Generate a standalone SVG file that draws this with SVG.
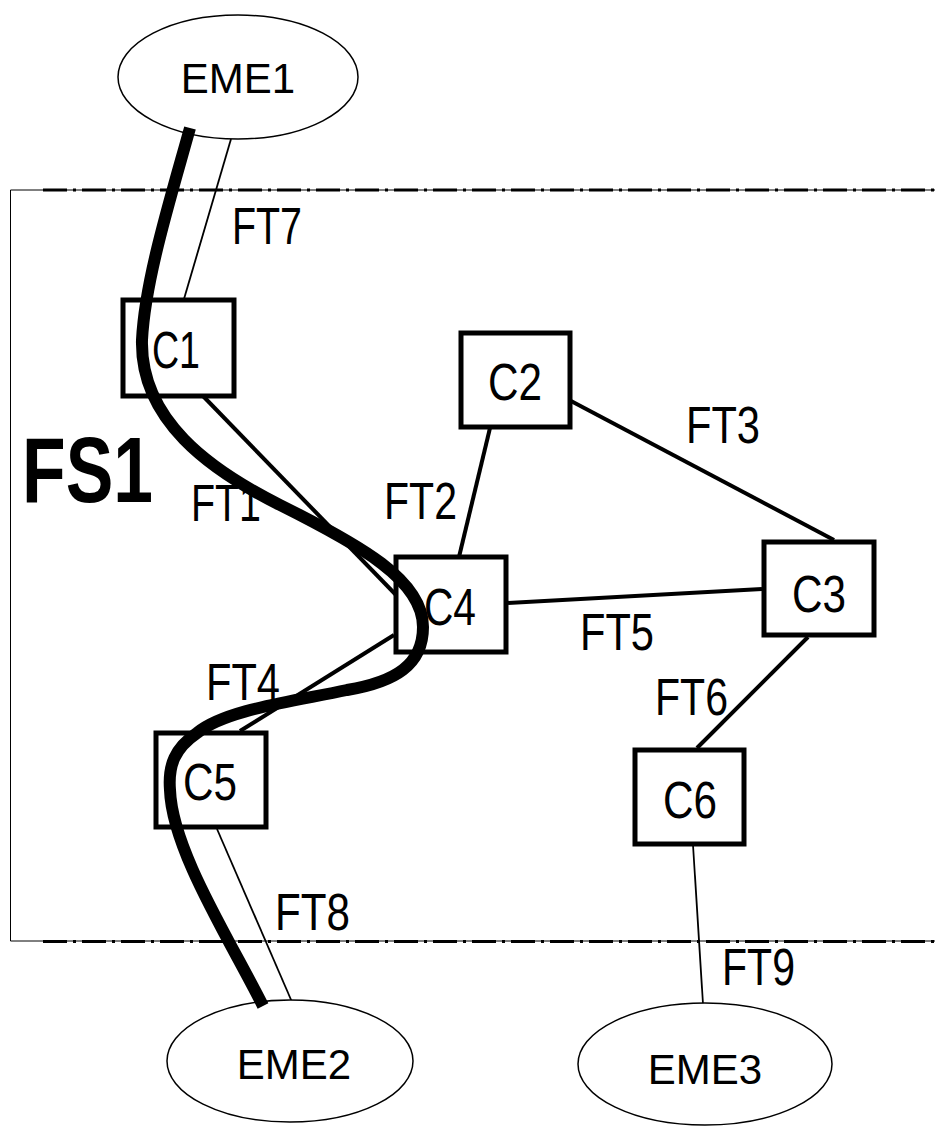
<svg xmlns="http://www.w3.org/2000/svg" width="935" height="1128" viewBox="0 0 935 1128">
<style>
.node{fill:#fff;stroke:#000;stroke-width:5}
.eme{fill:#fff;stroke:#000;stroke-width:1.5}
.lbl{font-family:"Liberation Sans",Arial,sans-serif;font-size:51px;fill:#000}
.emel{font-family:"Liberation Sans",Arial,sans-serif;font-size:42px;fill:#000;text-anchor:middle}
.e{stroke:#000;stroke-width:4;fill:none}
.t{stroke:#000;stroke-width:1.8;fill:none}
.frame{fill:none;stroke:#000;stroke-width:1}
.dd{stroke:#000;stroke-width:3;stroke-dasharray:24 6 3 6;fill:none}
</style>
<g id="frame">
<path class="frame" d="M935,190 H10.5 V941 H935"/>
<line class="dd" x1="43" y1="190" x2="935" y2="190"/>
<line class="dd" x1="43" y1="941.5" x2="935" y2="941.5"/>
</g>
<g id="connectors">
<line class="t" x1="231" y1="139" x2="184" y2="299"/>
<line class="e" x1="203" y1="396" x2="398" y2="597"/>
<line class="e" x1="490" y1="428" x2="459" y2="557"/>
<line class="e" x1="571" y1="401" x2="834" y2="540"/>
<line class="e" x1="507" y1="603" x2="762" y2="589"/>
<line class="e" x1="394" y1="635" x2="240" y2="731"/>
<line class="e" x1="808" y1="637" x2="697" y2="748"/>
<line class="t" x1="217" y1="829" x2="292" y2="1002"/>
<line class="t" x1="693" y1="845" x2="703" y2="1004"/>
</g>
<g id="EME1"><ellipse class="eme" cx="238" cy="77" rx="120" ry="62"/><text class="emel" x="238" y="93">EME1</text></g>
<g id="EME2"><ellipse class="eme" cx="290" cy="1061" rx="123" ry="61"/><text class="emel" x="294" y="1079">EME2</text></g>
<g id="EME3"><ellipse class="eme" cx="705" cy="1064" rx="127" ry="61"/><text class="emel" x="705" y="1084">EME3</text></g>
<g id="C1"><rect class="node" x="123" y="300" width="111" height="96"/></g>
<g id="C2"><rect class="node" x="461" y="333" width="109" height="94"/><text class="lbl" x="488" y="400" textLength="54" lengthAdjust="spacingAndGlyphs">C2</text></g>
<g id="C4"><rect class="node" x="396" y="557" width="110" height="95"/></g>
<g id="C3"><rect class="node" x="764" y="542" width="110" height="93"/><text class="lbl" x="792" y="612" textLength="54" lengthAdjust="spacingAndGlyphs">C3</text></g>
<g id="C5"><rect class="node" x="156" y="733" width="110" height="94"/></g>
<g id="C6"><rect class="node" x="635" y="750" width="109" height="94"/><text class="lbl" x="663" y="818" textLength="54" lengthAdjust="spacingAndGlyphs">C6</text></g>
<g id="FS1-path">
<path d="M190,128 C170,200 145,280 142,340 C140,420 210,470 280,505 C360,545 423,580 423,627 C423,665 395,682 347,690 C290,702 225,710 197,733 C175,748 168,765 170,790 C172,850 230,940 263,1006" fill="none" stroke="#000" stroke-width="12"/>
</g>
<g id="labels">
<text class="lbl" x="152" y="368" textLength="48" lengthAdjust="spacingAndGlyphs">C1</text>
<text class="lbl" x="424" y="625" textLength="52" lengthAdjust="spacingAndGlyphs">C4</text>
<text class="lbl" x="183" y="800" textLength="54" lengthAdjust="spacingAndGlyphs">C5</text>
<text class="lbl" x="232" y="244" textLength="70" lengthAdjust="spacingAndGlyphs">FT7</text>
<text class="lbl" x="686" y="443" textLength="74" lengthAdjust="spacingAndGlyphs">FT3</text>
<text class="lbl" x="191" y="521" textLength="70" lengthAdjust="spacingAndGlyphs">FT1</text>
<text class="lbl" x="384" y="519" textLength="73" lengthAdjust="spacingAndGlyphs">FT2</text>
<text class="lbl" x="580" y="650" textLength="74" lengthAdjust="spacingAndGlyphs">FT5</text>
<text class="lbl" x="206" y="700" textLength="74" lengthAdjust="spacingAndGlyphs">FT4</text>
<text class="lbl" x="655" y="715" textLength="73" lengthAdjust="spacingAndGlyphs">FT6</text>
<text class="lbl" x="275" y="930" textLength="75" lengthAdjust="spacingAndGlyphs">FT8</text>
<text class="lbl" x="722" y="985" textLength="73" lengthAdjust="spacingAndGlyphs">FT9</text>
<text x="22" y="502" font-family="'Liberation Sans',Arial,sans-serif" font-weight="bold" font-size="93" textLength="131" lengthAdjust="spacingAndGlyphs">FS1</text>
</g>
</svg>
